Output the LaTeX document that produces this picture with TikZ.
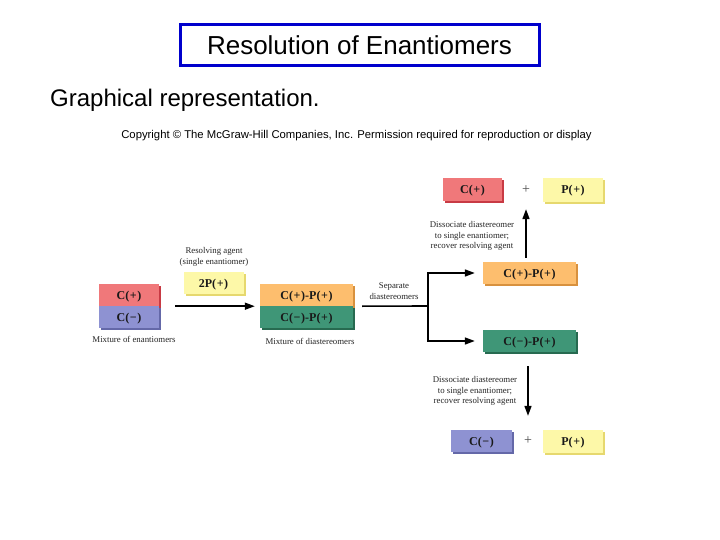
\documentclass[tikz,border=0pt]{standalone}
\usepackage{fontspec}
\setmainfont{Liberation Serif}
\newfontfamily\arialf{Liberation Sans}
\usetikzlibrary{shadows,arrows.meta}
\definecolor{cred}{HTML}{F0787A}
\definecolor{credd}{HTML}{C83A44}
\definecolor{cblue}{HTML}{8E92D2}
\definecolor{cblued}{HTML}{6468A8}
\definecolor{corange}{HTML}{FDBE6E}
\definecolor{coranged}{HTML}{D8913E}
\definecolor{cgreen}{HTML}{3F9677}
\definecolor{cgreend}{HTML}{276A50}
\definecolor{cyellow}{HTML}{FDF8A8}
\definecolor{cyellowd}{HTML}{E6D86E}
\definecolor{tblue}{HTML}{0000CC}
\newcommand{\pl}{(\kern0.6pt+\kern0.6pt)}
\newcommand{\mi}{(\kern0.6pt−\kern0.6pt)}
\tikzset{
  box/.style={inner sep=0pt, minimum height=22pt, text height=8.5pt, text depth=0.5pt, font=\fontsize{12}{13}\selectfont\bfseries, text=black!90},
  sh/.style={general shadow={fill=#1, shadow xshift=2pt, shadow yshift=-2pt}},
  lbl/.style={font=\fontsize{8.8}{10.5}\selectfont, align=center, inner sep=0pt, text=black!85},
  arr/.style={line width=1.6pt, -{Triangle[length=10pt,width=7pt]}},
  ln/.style={line width=1.6pt},
  plus/.style={font=\fontsize{14}{15}\selectfont, inner sep=0pt, text=black!70},
}
\begin{document}
\begin{tikzpicture}[x=1pt,y=-1pt]
\useasboundingbox[fill=white] (0,0) rectangle (720,540);
% title
\node[draw=tblue, line width=3pt, minimum width=359pt, minimum height=41pt, font=\arialf\fontsize{26}{28}\selectfont] (title) at (359.5,45) {Resolution of Enantiomers};
\node[anchor=west, font=\arialf\fontsize{24}{26}\selectfont, inner sep=0pt] (sub) at (50,100) {Graphical representation.};
\node[font=\arialf\fontsize{11.3}{13}\selectfont, inner sep=0pt] (copy) at (356.5,136) {Copyright \textcopyright\ The McGraw-Hill Companies, Inc. Permission required for reproduction or display};
% left stack
\node[box, sh=credd, fill=cred, minimum width=60pt] (cp) at (129,295) {C\pl};
\node[box, sh=cblued, fill=cblue, minimum width=60pt] (cm) at (129,317) {C\mi};
\node[lbl] (mixe) at (134,339) {Mixture of enantiomers};
% resolving agent
\node[lbl] (ragent) at (214,257) {Resolving agent\\(single enantiomer)};
\node[box, sh=cyellowd, fill=cyellow, minimum width=60pt] (pp) at (213.5,283) {2P\pl};
% middle stack
\node[box, sh=coranged, fill=corange, minimum width=93pt] (dp) at (306.5,295) {C\pl-P\pl};
\node[box, sh=cgreend, fill=cgreen, minimum width=93pt] (dm) at (306.5,317) {C\mi-P\pl};
\node[lbl] (mixd) at (310,341) {Mixture of diastereomers};
\draw[arr] ([xshift=16pt]cp.south east) -- ([xshift=-5pt]dp.south west);
% separation
\node[lbl] (sep) at (394,291) {Separate\\diastereomers};
\coordinate (br) at (428,306);
\node[box, sh=coranged, fill=corange, minimum width=93pt] (ep) at (529.5,273) {C\pl-P\pl};
\node[box, sh=cgreend, fill=cgreen, minimum width=93pt] (em) at (529.5,341) {C\mi-P\pl};
\draw[ln] ([xshift=9pt]dp.south east) -- (br);
\draw[arr] (br) |- ([xshift=-8pt]ep.west);
\draw[arr] (br) |- ([xshift=-8pt]em.west);
% top products
\node[box, sh=credd, fill=cred, minimum width=59pt, minimum height=23pt] (tc) at (472.5,189.5) {C\pl};
\node[plus] (tplus) at (526,190) {+};
\node[box, sh=cyellowd, fill=cyellow, minimum width=60pt, minimum height=24pt] (tp) at (573,190) {P\pl};
\node[lbl] (dis1) at (472,236) {Dissociate diastereomer\\to single enantiomer;\\recover resolving agent};
\draw[arr] ([yshift=4pt]ep.north -| tplus) -- ([yshift=-15pt]tplus.south);
% bottom products
\node[box, sh=cblued, fill=cblue, minimum width=61pt] (bc) at (481.5,441) {C\mi};
\node[plus] (bplus) at (528,441) {+};
\node[box, sh=cyellowd, fill=cyellow, minimum width=60pt, minimum height=23pt] (bp) at (573,441.5) {P\pl};
\node[lbl] (dis2) at (475,391) {Dissociate diastereomer\\to single enantiomer;\\recover resolving agent};
\draw[arr] ([yshift=-14pt]em.south -| bplus) -- ([yshift=21pt]bplus.north);
\end{tikzpicture}
\end{document}
